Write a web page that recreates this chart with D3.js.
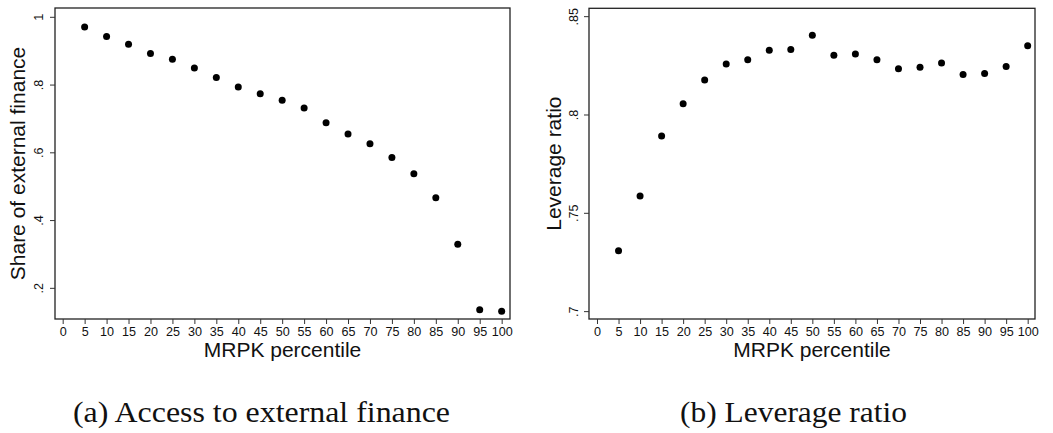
<!DOCTYPE html>
<html>
<head>
<meta charset="utf-8">
<script src="https://cdn.jsdelivr.net/npm/d3@7"></script>
<style>
  body { margin: 0; background: #fff; }
  svg { display: block; }
  .tick text { font-family: "Liberation Sans", Arial, sans-serif; font-size: 12.6px; fill: #111; }
  .axis-title { font-family: "Liberation Sans", Arial, sans-serif; font-size: 21px; fill: #111; }
  .caption { font-family: "Liberation Serif", "Times New Roman", serif; font-size: 29px; fill: #111; }
</style>
</head>
<body>
<svg id="chart" width="1053" height="433"></svg>
<script>
// MRPK percentiles (x categories)
var percentiles = [5, 10, 15, 20, 25, 30, 35, 40, 45, 50, 55, 60, 65, 70, 75, 80, 85, 90, 95, 100]
var xTicks = [0, 5, 10, 15, 20, 25, 30, 35, 40, 45, 50, 55, 60, 65, 70, 75, 80, 85, 90, 95, 100]

// panel (a) share of external finance
var shareExternal = [0.970, 0.942, 0.919, 0.892, 0.875, 0.849, 0.821, 0.793, 0.773, 0.754,
                     0.731, 0.687, 0.654, 0.625, 0.585, 0.537, 0.466, 0.329, 0.135, 0.131]
var shareTicks = [0.2, 0.4, 0.6, 0.8, 1]

// panel (b) leverage ratio
var leverage = [0.7307, 0.7585, 0.789, 0.8055, 0.8176, 0.8257, 0.8278, 0.8327, 0.8330, 0.8403,
                0.8301, 0.8308, 0.8278, 0.8232, 0.8240, 0.8262, 0.8203, 0.8208, 0.8244, 0.8349]
var leverageTicks = [0.7, 0.75, 0.8, 0.85]

var svg = d3.select("#chart")

// stata-ish labels: drop the leading zero
function fmt(v){
  var s = String(+v.toFixed(2))
  return s.replace(/^0\./, ".")
}

function drawPanel(opts){
  var x = d3.scaleLinear().domain(opts.xDomain).range([opts.left, opts.right])
  var y = d3.scaleLinear().domain(opts.yDomain).range([opts.bottom, opts.top])

  var g = svg.append("g")

  // frame
  g.append("rect")
    .attr("x", opts.left)
    .attr("y", opts.top)
    .attr("width", opts.right - opts.left)
    .attr("height", opts.bottom - opts.top)
    .attr("fill", "none")
    .attr("stroke", "#222")
    .attr("stroke-width", 1.3)

  // x axis
  var xAxis = g.append("g")
    .attr("transform", "translate(0," + opts.bottom + ")")
    .call(d3.axisBottom(x).tickValues(xTicks).tickSize(5).tickPadding(3).tickFormat(d3.format("d")))
  xAxis.select(".domain").remove()
  xAxis.selectAll(".tick line").attr("stroke", "#333")

  // y axis, labels turned sideways
  var yAxis = g.append("g")
    .attr("transform", "translate(" + opts.left + ",0)")
    .call(d3.axisLeft(y).tickValues(opts.yTicks).tickSize(5).tickFormat(fmt))
  yAxis.select(".domain").remove()
  yAxis.selectAll(".tick line").attr("stroke", "#333")
  yAxis.selectAll(".tick text")
    .attr("text-anchor", "middle")
    .attr("x", 0)
    .attr("y", -opts.yLabelGap)
    .attr("dy", 0)
    .attr("transform", "rotate(-90)")

  // points
  g.selectAll("circle")
    .data(opts.values)
    .enter()
    .append("circle")
    .attr("cx", function(d, i){ return x(percentiles[i]) })
    .attr("cy", function(d){ return y(d) })
    .attr("r", 3.5)
    .attr("fill", "#000")

  // titles
  g.append("text")
    .attr("class", "axis-title")
    .attr("text-anchor", "middle")
    .attr("x", (opts.left + opts.right) / 2)
    .attr("y", 356.5)
    .text("MRPK percentile")

  g.append("text")
    .attr("class", "axis-title")
    .attr("text-anchor", "middle")
    .attr("transform", "translate(" + opts.yTitleX + "," + (opts.top + opts.bottom) / 2 + ") rotate(-90)")
    .text(opts.yTitle)

  // caption font is wider in the original (palatino), so stretch a bit
  g.append("text")
    .attr("class", "caption")
    .attr("x", opts.captionX)
    .attr("y", 421.5)
    .attr("textLength", opts.captionLen)
    .attr("lengthAdjust", "spacingAndGlyphs")
    .text(opts.caption)
}

drawPanel({
  left: 55, right: 510, top: 8, bottom: 319,
  xDomain: [-1.75, 101.9],
  yDomain: [0.108, 1.026],
  yTicks: shareTicks,
  yLabelGap: 12,
  values: shareExternal,
  yTitle: "Share of external finance",
  yTitleX: 25,
  caption: "(a) Access to external finance",
  captionX: 73,
  captionLen: 377
})

drawPanel({
  left: 589, right: 1035, top: 8.3, bottom: 319,
  xDomain: [-1.857, 101.7],
  yDomain: [0.696, 0.854],
  yTicks: leverageTicks,
  yLabelGap: 11,
  values: leverage,
  yTitle: "Leverage ratio",
  yTitleX: 561,
  caption: "(b) Leverage ratio",
  captionX: 680,
  captionLen: 227
})
</script>
</body>
</html>
